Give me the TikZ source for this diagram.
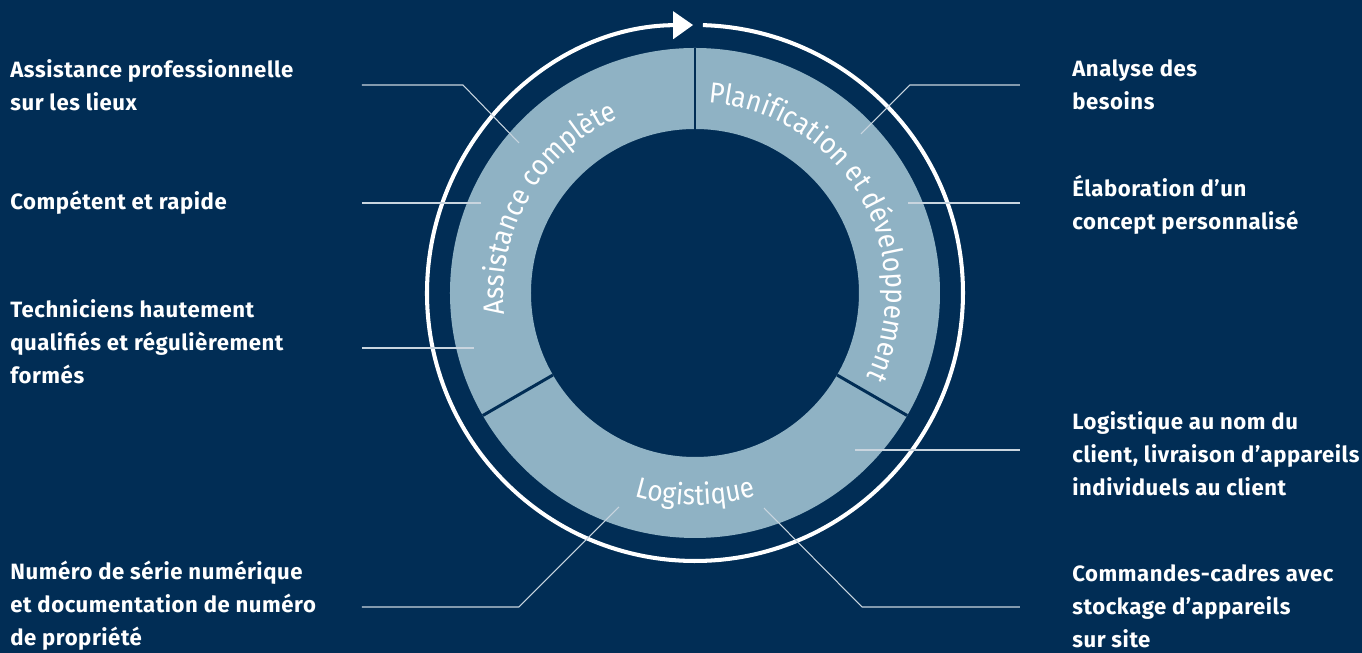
\documentclass[tikz,border=0pt]{standalone}
\usepackage{fontspec}
\setmainfont{Fira Sans}
\newfontfamily\labelfont{Fira Sans}[LetterSpace=2.5]
\newfontfamily\ringfont{Fira Sans}[FakeStretch=0.9]
\usetikzlibrary{arrows.meta,decorations.text}
\definecolor{navy}{HTML}{012D55}
\definecolor{ringblue}{HTML}{8FB2C4}
\definecolor{leadergrey}{HTML}{C9D5DF}
\tikzset{
	infotext/.style={text=white, font=\labelfont\bfseries\fontsize{12.6}{18.7}\selectfont,
		align=left, anchor=west, inner sep=0pt},
	leader/.style={draw=leadergrey, line width=0.6pt},
	divider/.style={draw=navy, line width=1.7pt},
	ringtext/.style={decorate, decoration={text along path, text align=center,
		text={|\color{white}\ringfont\fontsize{16.5}{20}\selectfont|#1}}}
}

\begin{document}
\begin{tikzpicture}
%background
\fill[navy] (-13.9,-7.2) rectangle (13.34,5.86);
\useasboundingbox (-13.9,-7.2) rectangle (13.34,5.86);

%ring
\fill[ringblue, even odd rule] (0,0) circle (4.9) circle (3.28);
\foreach \a in {90,-30,210}
{
	\draw[divider] (\a:3.28) -- (\a:4.9);
}

%cycle arrow
\draw[white, line width=2.3pt, -{Triangle[length=0.4cm,width=0.54cm]}]
	(88.3:5.36) arc[start angle=88.3, end angle=-269.6, radius=5.36];

%ring texts
\path[ringtext={Assistance complète}]
	(210:3.82) arc[start angle=210, end angle=90, radius=3.82];
\path[ringtext={Planification et développement}]
	(90:3.82) arc[start angle=90, end angle=-30, radius=3.82];
\path[ringtext={Logistique}]
	(210:4.24) arc[start angle=210, end angle=330, radius=4.24];

% left labels
\node[infotext] (assist) at (-13.7,4.16) {Assistance professionnelle\\sur les lieux};
\node[infotext] (fast) at (-13.7,1.8) {Compétent et rapide};
\node[infotext] (techs) at (-13.7,-0.98) {Techniciens hautement\\qualifiés et régulièrement\\formés};
\node[infotext] (serial) at (-13.7,-6.26) {Numéro de série numérique\\et documentation de numéro\\de propriété};

% right labels
\node[infotext] (needs) at (7.54,4.16) {Analyse des\\besoins};
\node[infotext] (concept) at (7.54,1.76) {Élaboration d’un\\concept personnalisé};
\node[infotext] (delivery) at (7.54,-3.22) {Logistique au nom du\\client, livraison d’appareils\\individuels au client};
\node[infotext] (frame) at (7.54,-6.26) {Commandes-cadres avec\\stockage d’appareils\\sur site};

% leader lines
\coordinate (assist-a) at (-6.66,4.16);
\coordinate (assist-b) at (-4.64,4.16);
\coordinate (assist-c) at (-3.52,3.0);
\coordinate (fast-a) at (-6.66,1.8);
\coordinate (fast-b) at (-4.28,1.8);
\coordinate (techs-a) at (-6.66,-1.1);
\coordinate (techs-b) at (-4.42,-1.1);
\coordinate (serial-a) at (-6.66,-6.28);
\coordinate (serial-b) at (-3.52,-6.28);
\coordinate (serial-c) at (-1.52,-4.28);
\coordinate (needs-a) at (6.5,4.16);
\coordinate (needs-b) at (4.3,4.16);
\coordinate (needs-c) at (3.32,3.18);
\coordinate (concept-a) at (6.5,1.8);
\coordinate (concept-b) at (4.26,1.8);
\coordinate (delivery-a) at (6.5,-3.14);
\coordinate (delivery-b) at (3.2,-3.14);
\coordinate (frame-a) at (6.5,-6.28);
\coordinate (frame-b) at (3.34,-6.28);
\coordinate (frame-c) at (1.38,-4.3);

\draw[leader] (assist-a) -- (assist-b) -- (assist-c);
\draw[leader] (fast-a) -- (fast-b);
\draw[leader] (techs-a) -- (techs-b);
\draw[leader] (serial-a) -- (serial-b) -- (serial-c);
\draw[leader] (needs-a) -- (needs-b) -- (needs-c);
\draw[leader] (concept-a) -- (concept-b);
\draw[leader] (delivery-a) -- (delivery-b);
\draw[leader] (frame-a) -- (frame-b) -- (frame-c);

\end{tikzpicture}
\end{document}
